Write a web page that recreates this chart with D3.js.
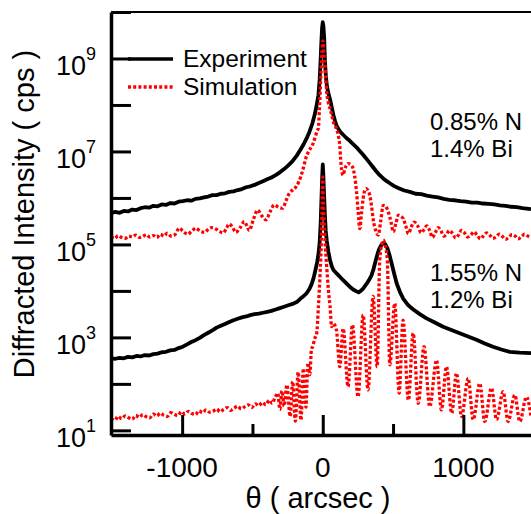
<!DOCTYPE html>
<html lang="en">
<head>
<meta charset="utf-8">
<title>HRXRD rocking curves</title>
<script src="https://cdn.jsdelivr.net/npm/d3@7"></script>
<style>
    body { margin: 0; background: #fff; }
    svg { display: block; font-family: "Liberation Sans", Arial, Helvetica, sans-serif; }
</style>
</head>
<body>
<svg id="chart" width="531" height="514"></svg>
<script>
// theta (arcsec), log10 of intensity (cps)
const expTop = [[-1506,5.67],[-1475,5.70],[-1445,5.68],[-1415,5.72],[-1385,5.71],[-1355,5.75],[-1325,5.74],[-1295,5.78],[-1265,5.80],[-1235,5.79],[-1205,5.83],[-1175,5.82],[-1145,5.86],[-1115,5.85],[-1085,5.89],[-1055,5.88],[-1025,5.92],[-995,5.93],[-965,5.95],[-935,5.94],[-905,5.98],[-875,5.99],[-845,6.01],[-815,6.03],[-785,6.06],[-755,6.06],[-725,6.09],[-695,6.10],[-665,6.13],[-635,6.14],[-605,6.17],[-575,6.19],[-545,6.23],[-515,6.25],[-485,6.28],[-455,6.32],[-425,6.36],[-395,6.40],[-365,6.44],[-335,6.49],[-305,6.55],[-275,6.62],[-245,6.70],[-215,6.79],[-185,6.91],[-160,7.03],[-135,7.16],[-115,7.28],[-95,7.42],[-73,7.61],[-55,7.82],[-42,8.02],[-31,8.21],[-22,8.55],[-16,8.92],[-10,9.35],[-5,9.65],[0,9.78],[5,9.68],[10,9.45],[16,8.92],[22,8.62],[30,8.40],[40,8.25],[52,8.12],[64,7.95],[76,7.78],[88,7.65],[100,7.54],[122,7.43],[145,7.36],[168,7.29],[192,7.23],[216,7.16],[240,7.09],[263,7.01],[287,6.93],[311,6.84],[335,6.75],[358,6.66],[382,6.57],[405,6.49],[430,6.42],[455,6.36],[480,6.31],[505,6.26],[540,6.21],[580,6.16],[620,6.13],[660,6.09],[700,6.08],[740,6.05],[780,6.03],[820,6.01],[860,5.98],[900,5.96],[940,5.95],[980,5.93],[1020,5.92],[1060,5.90],[1100,5.90],[1140,5.88],[1180,5.87],[1220,5.86],[1260,5.84],[1300,5.83],[1340,5.81],[1380,5.80],[1420,5.78],[1450,5.77],[1481,5.76]];

const simTop = [[-1506,5.17],[-1480,5.13],[-1455,5.19],[-1430,5.15],[-1405,5.13],[-1380,5.18],[-1355,5.16],[-1330,5.20],[-1305,5.15],[-1280,5.17],[-1255,5.21],[-1230,5.16],[-1205,5.19],[-1180,5.15],[-1155,5.22],[-1130,5.18],[-1105,5.24],[-1080,5.18],[-1055,5.20],[-1020,5.35],[-990,5.27],[-961,5.22],[-930,5.29],[-902,5.35],[-870,5.28],[-840,5.26],[-810,5.34],[-790,5.36],[-760,5.33],[-735,5.28],[-708,5.25],[-688,5.33],[-665,5.44],[-640,5.36],[-618,5.26],[-590,5.35],[-558,5.49],[-540,5.40],[-523,5.30],[-495,5.52],[-463,5.74],[-435,5.62],[-404,5.53],[-375,5.70],[-345,5.85],[-315,5.80],[-286,5.78],[-260,5.95],[-238,6.10],[-210,6.18],[-190,6.24],[-170,6.35],[-156,6.46],[-135,6.68],[-120,6.86],[-100,7.00],[-85,7.08],[-69,7.17],[-55,7.30],[-40,7.44],[-31,7.50],[-24,7.90],[-18,8.30],[-12,8.75],[-6,9.10],[-2,9.30],[2,9.38],[6,9.20],[11,9.00],[16,8.85],[22,8.55],[28,8.28],[40,8.05],[52,7.92],[64,7.78],[76,7.63],[88,7.55],[97,7.49],[110,7.35],[121,7.13],[127,6.85],[133,6.63],[145,6.49],[156,6.62],[168,6.70],[180,6.74],[192,6.73],[205,6.70],[216,6.63],[228,6.45],[240,6.13],[252,5.70],[263,5.34],[275,5.65],[287,5.98],[300,6.17],[311,6.20],[323,6.15],[334,6.06],[346,5.85],[358,5.55],[376,5.30],[395,5.20],[412,5.50],[430,5.84],[448,5.82],[466,5.70],[484,5.50],[502,5.27],[520,5.45],[538,5.63],[556,5.60],[573,5.55],[590,5.40],[609,5.23],[630,5.38],[650,5.48],[675,5.40],[700,5.25],[720,5.32],[740,5.40],[760,5.30],[780,5.15],[800,5.25],[820,5.36],[840,5.30],[860,5.18],[880,5.22],[900,5.30],[922,5.24],[945,5.14],[965,5.20],[985,5.30],[1008,5.25],[1030,5.16],[1052,5.20],[1075,5.27],[1098,5.20],[1120,5.12],[1142,5.18],[1165,5.25],[1188,5.20],[1210,5.13],[1232,5.16],[1255,5.22],[1278,5.17],[1300,5.11],[1322,5.15],[1345,5.21],[1368,5.18],[1390,5.12],[1412,5.16],[1435,5.22],[1458,5.18],[1481,5.15]];

const expBot = [[-1506,2.55],[-1475,2.54],[-1445,2.56],[-1415,2.55],[-1385,2.58],[-1355,2.57],[-1325,2.60],[-1295,2.59],[-1265,2.62],[-1235,2.61],[-1205,2.64],[-1175,2.65],[-1145,2.68],[-1115,2.69],[-1085,2.72],[-1055,2.73],[-1025,2.77],[-995,2.80],[-965,2.85],[-935,2.90],[-905,2.94],[-875,2.99],[-845,3.05],[-815,3.10],[-785,3.15],[-755,3.21],[-725,3.25],[-695,3.29],[-665,3.33],[-635,3.37],[-605,3.40],[-575,3.43],[-545,3.45],[-515,3.48],[-485,3.50],[-455,3.51],[-425,3.53],[-395,3.55],[-365,3.57],[-335,3.60],[-305,3.63],[-275,3.66],[-245,3.69],[-215,3.72],[-185,3.76],[-160,3.83],[-135,3.89],[-115,3.95],[-95,4.04],[-80,4.14],[-65,4.28],[-52,4.45],[-40,4.62],[-31,4.78],[-22,5.05],[-15,5.45],[-9,6.00],[-4,6.45],[0,6.72],[4,6.50],[9,6.10],[15,5.65],[21,5.30],[28,5.09],[40,4.84],[52,4.66],[64,4.53],[76,4.45],[100,4.37],[123,4.30],[145,4.23],[168,4.16],[192,4.09],[216,4.03],[240,3.99],[255,3.97],[270,4.00],[287,4.05],[311,4.15],[330,4.24],[346,4.33],[362,4.48],[377,4.66],[390,4.80],[401,4.90],[415,4.98],[430,5.03],[445,5.00],[459,4.92],[475,4.77],[490,4.59],[508,4.37],[526,4.16],[550,3.97],[573,3.83],[608,3.69],[644,3.60],[690,3.50],[738,3.41],[797,3.32],[856,3.23],[915,3.16],[974,3.09],[1033,3.02],[1093,2.95],[1152,2.87],[1211,2.80],[1270,2.74],[1330,2.69],[1400,2.67],[1481,2.66]];

const simBot = [[-1506,1.26],[-1480,1.22],[-1455,1.30],[-1430,1.25],[-1405,1.31],[-1380,1.27],[-1355,1.24],[-1330,1.32],[-1305,1.28],[-1280,1.34],[-1255,1.29],[-1230,1.27],[-1205,1.35],[-1180,1.31],[-1155,1.37],[-1130,1.32],[-1105,1.30],[-1080,1.38],[-1055,1.34],[-1030,1.32],[-1005,1.40],[-980,1.35],[-955,1.41],[-930,1.36],[-905,1.34],[-880,1.42],[-855,1.38],[-830,1.44],[-805,1.39],[-780,1.41],[-755,1.46],[-730,1.40],[-705,1.45],[-680,1.49],[-655,1.43],[-630,1.48],[-605,1.52],[-580,1.46],[-555,1.51],[-530,1.55],[-505,1.49],[-480,1.57],[-455,1.53],[-430,1.60],[-405,1.55],[-380,1.65],[-360,1.58],[-340,1.70],[-320,1.80],[-305,1.45],[-290,1.85],[-275,1.52],[-255,1.98],[-232,1.30],[-214,2.05],[-195,1.20],[-175,2.25],[-155,1.22],[-138,2.33],[-120,1.50],[-105,2.45],[-92,2.20],[-80,2.75],[-69,2.82],[-60,2.95],[-43,3.09],[-31,3.66],[-19,4.38],[-10,5.10],[-4,5.90],[0,6.45],[4,6.00],[10,5.50],[16,5.09],[28,4.52],[40,4.02],[52,3.66],[63,3.23],[74,3.30],[97,3.16],[121,2.37],[145,3.19],[180,1.94],[211,3.27],[251,1.72],[287,3.48],[322,1.87],[358,3.88],[387,2.37],[405,4.66],[420,5.00],[431,5.09],[443,5.00],[459,4.66],[477,2.41],[512,3.73],[543,1.80],[571,3.37],[609,1.65],[643,3.09],[679,1.58],[720,2.80],[761,1.51],[809,2.51],[844,1.44],[880,2.37],[917,1.37],[951,2.23],[987,1.30],[1034,2.12],[1070,1.23],[1117,2.01],[1152,1.19],[1200,1.91],[1236,1.23],[1283,1.83],[1318,1.19],[1366,1.76],[1401,1.19],[1449,1.72],[1481,1.30]];

const yTickExp = [1, 2, 3, 4, 5, 6, 7, 8, 9, 10];
const yLabelExp = [1, 3, 5, 7, 9];
const xMajor = [-1000, 0, 1000];
const xMinor = [-500, 500];
const legendNames = ["Experiment", "Simulation"];
const sampleNotes = [["0.85% N", "1.4% Bi"], ["1.55% N", "1.2% Bi"]];

const plotL = 111, plotR = 531, plotT = 12, plotB = 435;
const svg = d3.select("#chart");

const x = d3.scaleLinear().domain([-1506, 1481]).range([plotL, plotR]);
const y = d3.scaleLog().domain([Math.pow(10, 0.9), 1e10]).range([plotB, plotT]);

svg.append("defs").append("clipPath").attr("id", "plot")
    .append("rect").attr("x", plotL).attr("y", plotT)
    .attr("width", plotR - plotL).attr("height", plotB - plotT);

const expLine = d3.line().x(d => x(d[0])).y(d => y(Math.pow(10, d[1])));
const simLine = d3.line().x(d => x(d[0])).y(d => y(Math.pow(10, d[1]))).curve(d3.curveMonotoneX);

const plot = svg.append("g").attr("clip-path", "url(#plot)");

[expTop, expBot].forEach(s => {
    plot.append("path").datum(s).attr("d", expLine)
        .attr("fill", "none").attr("stroke", "#000").attr("stroke-width", 3.8)
        .attr("stroke-linejoin", "round");
});
[simTop, simBot].forEach(s => {
    plot.append("path").datum(s).attr("d", simLine)
        .attr("fill", "none").attr("stroke", "#ff0000").attr("stroke-width", 3.3)
        .attr("stroke-dasharray", "3,2.2");
});

// axes
const yAxis = svg.append("g").attr("transform", `translate(${plotL},0)`)
    .call(d3.axisLeft(y).tickValues(yTickExp.map(e => Math.pow(10, e)))
        .tickSize(-20).tickSizeOuter(0).tickFormat(""));
yAxis.select(".domain").attr("stroke-width", 3.5);
yAxis.selectAll(".tick line").attr("stroke-width", 3);

const xAxis = svg.append("g").attr("transform", `translate(0,${plotB})`)
    .call(d3.axisBottom(x).tickValues(xMajor).tickSize(-20).tickSizeOuter(0).tickFormat(""));
xAxis.select(".domain").attr("stroke-width", 3.5);
xAxis.selectAll(".tick line").attr("stroke-width", 3);

const xMinorAxis = svg.append("g").attr("transform", `translate(0,${plotB})`)
    .call(d3.axisBottom(x).tickValues(xMinor).tickSize(-11).tickFormat(""));
xMinorAxis.select(".domain").remove();
xMinorAxis.selectAll(".tick line").attr("stroke-width", 3);

svg.append("line").attr("x1", plotL).attr("x2", plotR).attr("y1", plotT).attr("y2", plotT)
    .attr("stroke", "#000").attr("stroke-width", 2.2);

// y tick labels 10^n
yLabelExp.forEach(e => {
    const t = svg.append("text").attr("x", 96).attr("y", y(Math.pow(10, e)) + 16.5)
        .attr("text-anchor", "end").attr("font-size", 27).attr("fill", "#000");
    t.append("tspan").text("10");
    t.append("tspan").attr("dy", -15).attr("font-size", 18).text(e);
});

// x tick labels
xMajor.forEach(v => {
    svg.append("text").attr("x", x(v)).attr("y", 477)
        .attr("text-anchor", "middle").attr("font-size", 28).text(v);
});

svg.append("text").attr("x", 318).attr("y", 508).attr("text-anchor", "middle")
    .attr("font-size", 29).text("θ ( arcsec )");

svg.append("text").attr("transform", "translate(34,214) rotate(-90)")
    .attr("text-anchor", "middle").attr("font-size", 29).text("Diffracted Intensity ( cps )");

// legend
const leg = svg.append("g");
leg.append("line").attr("x1", 128).attr("x2", 173).attr("y1", 59).attr("y2", 59)
    .attr("stroke", "#000").attr("stroke-width", 3.4);
leg.append("line").attr("x1", 128).attr("x2", 173).attr("y1", 87).attr("y2", 87)
    .attr("stroke", "#ff0000").attr("stroke-width", 3.3).attr("stroke-dasharray", "3,2.2");
legendNames.forEach((n, i) => {
    leg.append("text").attr("x", 183).attr("y", 67 + i * 28).attr("font-size", 24.5).text(n);
});

// sample annotations
[[130, 157], [281, 308]].forEach((ys, i) => {
    sampleNotes[i].forEach((s, j) => {
        svg.append("text").attr("x", 430).attr("y", ys[j]).attr("font-size", 24).text(s);
    });
});
</script>
</body>
</html>
